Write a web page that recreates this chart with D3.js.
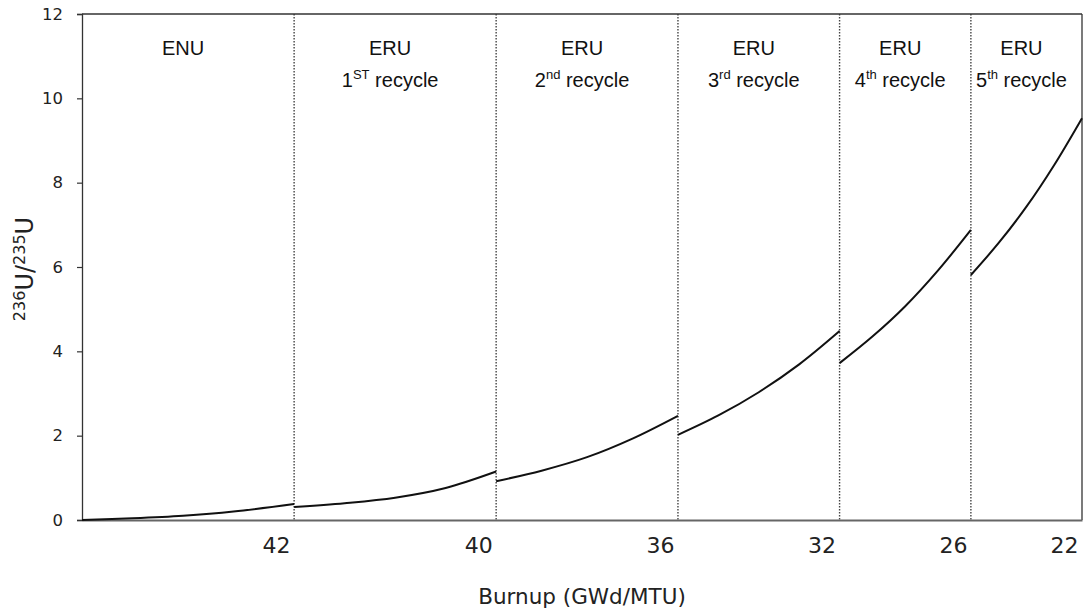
<!DOCTYPE html>
<html>
<head>
<meta charset="utf-8">
<script src="https://cdn.jsdelivr.net/npm/d3@7"></script>
<style>
  html, body { margin: 0; padding: 0; background: #fff; }
  svg { display: block; }
</style>
</head>
<body>
<svg id="chart" width="1088" height="611"></svg>
<script>
// Fuel cycles: natural enrichment followed by five reprocessed-uranium recycles
const cycleNames = ["ENU", "ERU", "ERU", "ERU", "ERU", "ERU"];
const cycleOrdinals = [null, ["1", "ST"], ["2", "nd"], ["3", "rd"], ["4", "th"], ["5", "th"]];
// Discharge burnup of each cycle (GWd/MTU); cycles are laid end to end on the x axis
const cycleBurnup = [42, 40, 36, 32, 26, 22];
const burnupTickLabels = ["42", "40", "36", "32", "26", "22"];

// 236U/235U ratio along each cycle: [burnup within cycle, ratio]
const ratioENU  = [[0, 0], [10, 0.04], [20, 0.10], [30, 0.20], [42, 0.38]];
const ratioERU1 = [[0, 0.31], [10, 0.40], [20, 0.53], [30, 0.76], [40, 1.15]];
const ratioERU2 = [[0, 0.92], [9, 1.17], [18, 1.49], [27, 1.93], [36, 2.47]];
const ratioERU3 = [[0, 2.02], [8, 2.48], [16, 3.03], [24, 3.69], [32, 4.48]];
const ratioERU4 = [[0, 3.72], [6.5, 4.35], [13, 5.07], [19.5, 5.92], [26, 6.88]];
const ratioERU5 = [[0, 5.81], [5.5, 6.57], [11, 7.43], [16.5, 8.42], [22, 9.53]];
const ratioSeries = [ratioENU, ratioERU1, ratioERU2, ratioERU3, ratioERU4, ratioERU5];

const yTicks = [0, 2, 4, 6, 8, 10, 12];

const svg = d3.select("#chart");
const margin = { left: 82, right: 6, top: 14, bottom: 91 };
const W = 1088, H = 611;
const plotW = W - margin.left - margin.right;
const plotH = H - margin.top - margin.bottom;

// cumulative burnup at the start of each cycle
const cycleStart = [];
cycleBurnup.reduce((acc, b, i) => { cycleStart[i] = acc; return acc + b; }, 0);
const totalBurnup = d3.sum(cycleBurnup);
const cycleEnd = cycleBurnup.map((b, i) => cycleStart[i] + b);

const x = d3.scaleLinear().domain([0, totalBurnup]).range([margin.left, margin.left + plotW]);
const y = d3.scaleLinear().domain([0, 12]).range([margin.top + plotH, margin.top]);

const axisFont = "'DejaVu Sans', Verdana, sans-serif";
const labelFont = "'Liberation Sans', Arial, sans-serif";

// cycle boundaries
svg.append("g")
  .selectAll("line")
  .data(cycleEnd.slice(0, -1))
  .join("line")
  .attr("x1", d => x(d)).attr("x2", d => x(d))
  .attr("y1", y(12)).attr("y2", y(0))
  .attr("stroke", "#444")
  .attr("stroke-width", 1.4)
  .attr("stroke-dasharray", "1.5,1.5");

// frame: top and right edges
svg.append("line")
  .attr("x1", x(0)).attr("x2", x(totalBurnup))
  .attr("y1", y(12)).attr("y2", y(12))
  .attr("stroke", "#333").attr("stroke-width", 1.3);
svg.append("line")
  .attr("x1", x(totalBurnup)).attr("x2", x(totalBurnup))
  .attr("y1", y(12)).attr("y2", y(0))
  .attr("stroke", "#333").attr("stroke-width", 1.3);

// y axis
const yAxis = svg.append("g")
  .attr("transform", `translate(${x(0)},0)`)
  .call(d3.axisLeft(y).tickValues(yTicks).tickSize(5).tickPadding(14).tickFormat(d3.format("d")));
yAxis.select(".domain").attr("stroke", "#333").attr("stroke-width", 1.3);
yAxis.selectAll(".tick line").attr("stroke", "#333").attr("stroke-width", 1.2);
yAxis.selectAll(".tick text")
  .attr("font-family", axisFont).attr("font-size", 16.5).attr("fill", "#222");

// x axis: burnup of each cycle marked at its end
const xAxis = svg.append("g")
  .attr("transform", `translate(0,${y(0)})`)
  .call(d3.axisBottom(x).tickValues(cycleEnd).tickSize(0).tickPadding(0)
    .tickFormat((d, i) => burnupTickLabels[i]));
xAxis.select(".domain").attr("stroke", "#666").attr("stroke-width", 2);
xAxis.selectAll(".tick text")
  .attr("font-family", axisFont).attr("font-size", 22).attr("fill", "#222")
  .attr("text-anchor", "end")
  .attr("dx", -4)
  .attr("dy", 0)
  .attr("y", 33);

// axis titles
svg.append("text")
  .attr("x", (x(0) + x(totalBurnup)) / 2)
  .attr("y", 604)
  .attr("text-anchor", "middle")
  .attr("font-family", axisFont).attr("font-size", 21.5).attr("fill", "#222")
  .text("Burnup (GWd/MTU)");

const yTitle = svg.append("text")
  .attr("transform", `translate(33,${y(6) + 2}) rotate(-90)`)
  .attr("text-anchor", "middle")
  .attr("font-family", axisFont).attr("font-size", 24).attr("fill", "#222");
yTitle.append("tspan").attr("font-size", 16).attr("dy", -8).text("236");
yTitle.append("tspan").attr("dy", 8).text("U/");
yTitle.append("tspan").attr("font-size", 16).attr("dy", -8).text("235");
yTitle.append("tspan").attr("dy", 8).text("U");

// cycle labels
const labels = svg.append("g")
  .attr("font-family", labelFont).attr("font-size", 20).attr("fill", "#111")
  .attr("text-anchor", "middle");
cycleBurnup.forEach((b, i) => {
  const cx = x(cycleStart[i] + b / 2) - 5;
  labels.append("text").attr("x", cx).attr("y", 55).text(cycleNames[i]);
  const ord = cycleOrdinals[i];
  if (ord) {
    const t = labels.append("text").attr("x", cx).attr("y", 87);
    t.append("tspan").text(ord[0]);
    t.append("tspan").attr("font-size", 13).attr("dy", -8).text(ord[1]);
    t.append("tspan").attr("dy", 8).text(" recycle");
  }
});

// ratio curve, one piece per cycle
const line = d3.line()
  .x(d => x(d[0]))
  .y(d => y(d[1]))
  .curve(d3.curveCatmullRom.alpha(0.5));

svg.append("g")
  .selectAll("path")
  .data(ratioSeries.map((s, i) => s.map(p => [cycleStart[i] + p[0], p[1]])))
  .join("path")
  .attr("d", line)
  .attr("fill", "none")
  .attr("stroke", "#111")
  .attr("stroke-width", 2);
</script>
</body>
</html>
